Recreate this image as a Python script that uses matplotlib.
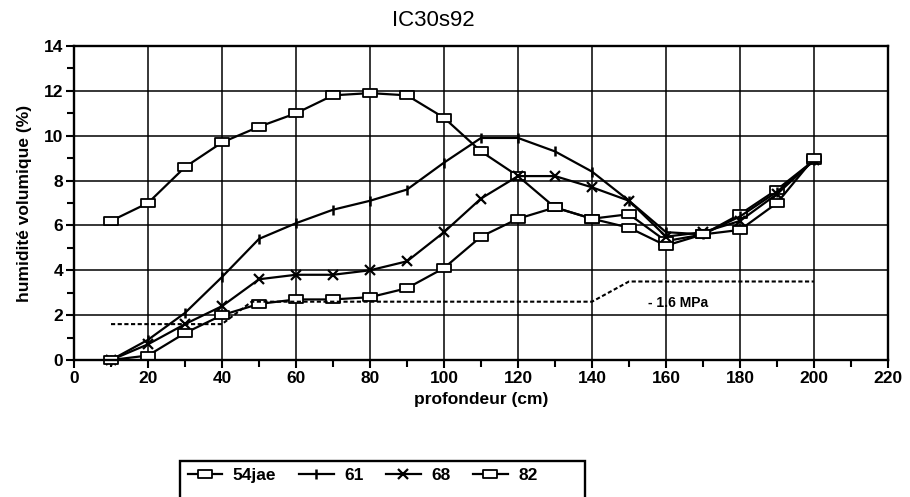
import numpy as np
import matplotlib.pyplot as plt
from matplotlib.path import Path
from matplotlib.patches import Rectangle

plt.rcParams['font.family'] = ['Liberation Sans', 'DejaVu Sans']

# depth (cm)
depth = [10, 20, 30, 40, 50, 60, 70, 80, 90, 100,
         110, 120, 130, 140, 150, 160, 170, 180, 190, 200]

# volumetric moisture (%) per date
h_54jae = [6.2, 7.0, 8.6, 9.7, 10.4, 11.0, 11.8, 11.9, 11.8, 10.8,
           9.3, 8.2, 6.8, 6.3, 6.5, 5.3, 5.6, 6.5, 7.6, 8.9]
h_61 = [0.0, 0.9, 2.1, 3.7, 5.4, 6.1, 6.7, 7.1, 7.6, 8.8,
        9.9, 9.9, 9.3, 8.4, 7.1, 5.7, 5.6, 6.4, 7.5, 8.9]
h_68 = [0.0, 0.7, 1.6, 2.4, 3.6, 3.8, 3.8, 4.0, 4.4, 5.7,
        7.2, 8.2, 8.2, 7.7, 7.1, 5.5, 5.7, 6.2, 7.4, 8.9]
h_82 = [0.0, 0.2, 1.2, 2.0, 2.5, 2.7, 2.7, 2.8, 3.2, 4.1,
        5.5, 6.3, 6.8, 6.3, 5.9, 5.1, 5.6, 5.8, 7.0, 9.0]

# wilting point (-1.6 MPa)
wp_depth = [10, 40, 48, 140, 150, 200]
wp_value = [1.6, 1.6, 2.6, 2.6, 3.5, 3.5]

# wide rectangle marker like the original
rect = Path([(-1, -0.5), (1, -0.5), (1, 0.5), (-1, 0.5), (-1, -0.5)],
            [Path.MOVETO, Path.LINETO, Path.LINETO, Path.LINETO, Path.CLOSEPOLY])

fig = plt.figure(figsize=(9.1, 4.97), dpi=100)
ax = fig.add_axes([74 / 910, 1 - 360 / 497, 814 / 910, 314 / 497])

line_kw = dict(color='black', linewidth=1.6, clip_on=False)
ax.plot(depth, h_54jae, marker=rect, markersize=10.5, markerfacecolor='white',
        markeredgecolor='black', markeredgewidth=1.3, label='54jae', **line_kw)
ax.plot(depth, h_61, marker='|', markersize=7, markeredgewidth=1.8,
        label='61', **line_kw)
ax.plot(depth, h_68, marker='x', markersize=7, markeredgewidth=1.6,
        label='68', **line_kw)
ax.plot(depth, h_82, marker=rect, markersize=10.5, markerfacecolor='white',
        markeredgecolor='black', markeredgewidth=1.3, label='82', **line_kw)

ax.plot(wp_depth, wp_value, color='black', linewidth=1.5, dashes=(2, 1.2))
ax.text(155, 2.55, '- 1.6 MPa', fontsize=10, fontweight='bold',
        va='center', ha='left')

ax.set_xlim(0, 220)
ax.set_ylim(0, 14)
ax.set_xticks(np.arange(0, 221, 20))
ax.set_xticks(np.arange(10, 220, 20), minor=True)
ax.set_yticks(np.arange(0, 15, 2))
ax.set_yticks(np.arange(1, 14, 2), minor=True)
ax.tick_params(which='major', direction='out', length=6, width=1.5,
               labelsize=12.5, pad=2)
ax.tick_params(which='minor', direction='out', length=5, width=1.5)
for lab in ax.get_xticklabels() + ax.get_yticklabels():
    lab.set_fontweight('bold')
ax.grid(True, which='major', color='black', linewidth=1.1)
ax.set_axisbelow(True)
for s in ax.spines.values():
    s.set_linewidth(1.7)

ax.set_xlabel('profondeur (cm)', fontsize=12.5, fontweight='bold', labelpad=4)
ax.set_ylabel('humidité volumique (%)', fontsize=12.5, fontweight='bold',
              labelpad=8)

fig.text(433 / 910, 1 - 21 / 497, 'IC30s92', fontsize=16,
         ha='center', va='center')

leg = fig.legend(loc='center left', bbox_to_anchor=(179 / 910, 1 - 475 / 497),
                 ncol=4, frameon=False, borderpad=0,
                 prop={'size': 12.5, 'weight': 'bold'},
                 handlelength=2.0, handletextpad=0.6, columnspacing=1.3)
fig.add_artist(Rectangle((180 / 910, -0.1), 405 / 910, (497 - 461) / 497 + 0.1,
                         transform=fig.transFigure, fill=False,
                         edgecolor='black', linewidth=1.7, clip_on=False))

fig.savefig('out.png', dpi=100)
